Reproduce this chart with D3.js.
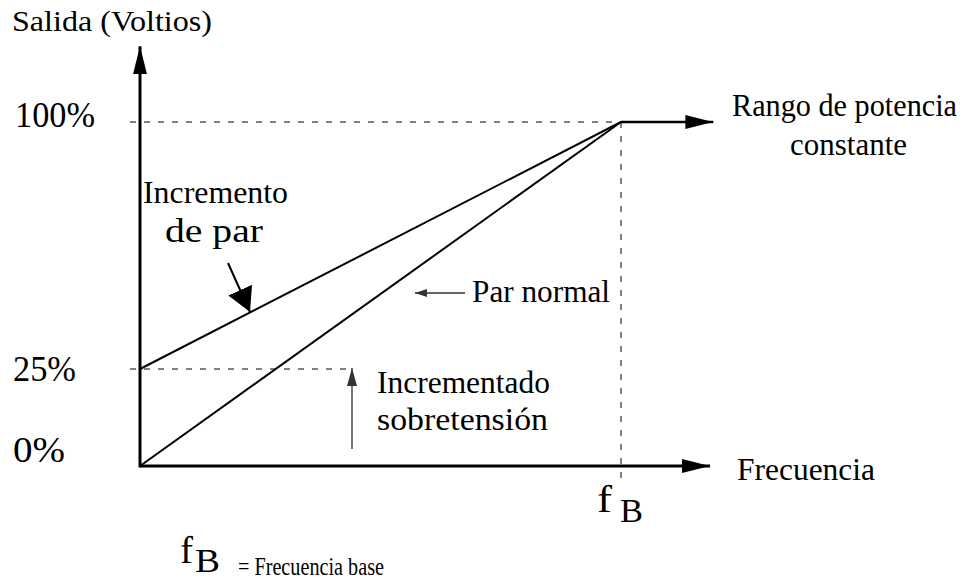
<!DOCTYPE html>
<html><head><meta charset="utf-8">
<script src="https://cdn.jsdelivr.net/npm/d3@7"></script>
<style>html,body{margin:0;padding:0;background:#fff}svg{display:block}</style>
</head><body><svg id="c" width="968" height="579"></svg>
<script>
// ---- data ----
const freqDomain = [0, 1];                 // 0 .. fB (normalized frequency)
const yTickValues = [0, 25, 100];
const yTickLabels = ["0%", "25%", "100%"];
const parNormal = [[0, 0], [1, 100]];
const incrementoPar = [[0, 25], [1, 100]];
const potenciaConstante = [[1, 100], [1.192, 100]];
const xAxisEnd = 1.185;
const yAxisEnd = 123;

const FONT = "'Liberation Serif', 'Times New Roman', Times, 'DejaVu Serif', serif";
const svg = d3.select("#c").attr("font-family", FONT);
const x = d3.scaleLinear().domain(freqDomain).range([140, 621]);
const y = d3.scaleLinear().domain([0, 25, 100]).range([466, 369, 122]);
const line = d3.line().x(d => x(d[0])).y(d => y(d[1]));

const defs = svg.append("defs");
function marker(id, len, hw, color) {
  defs.append("marker").attr("id", id).attr("viewBox", `0 ${-hw} ${len} ${2*hw}`)
    .attr("refX", len).attr("refY", 0).attr("markerWidth", len).attr("markerHeight", 2*hw)
    .attr("markerUnits", "userSpaceOnUse").attr("orient", "auto")
    .append("path").attr("d", `M0,${-hw}L${len},0L0,${hw}Z`).attr("fill", color);
}
marker("ax", 28, 7, "#000");
marker("big", 24, 13, "#000");
marker("sm", 12, 4, "#333");
marker("sm2", 18, 5, "#333");

// dashed guides
svg.append("line").attr("x1", x(0) - 10).attr("x2", x(1)).attr("y1", y(100)).attr("y2", y(100))
  .attr("stroke", "#000").attr("stroke-width", 1).attr("stroke-dasharray", "6,8");
svg.append("line").attr("x1", x(0) - 10).attr("x2", x(0.44)).attr("y1", y(25)).attr("y2", y(25))
  .attr("stroke", "#000").attr("stroke-width", 1).attr("stroke-dasharray", "6,8");
svg.append("line").attr("x1", x(1)).attr("x2", x(1)).attr("y1", y(100)).attr("y2", y(0) + 12)
  .attr("stroke", "#000").attr("stroke-width", 1).attr("stroke-dasharray", "6,8");

// axes
svg.append("line").attr("x1", x(0)).attr("x2", x(xAxisEnd)).attr("y1", y(0)).attr("y2", y(0))
  .attr("stroke", "#000").attr("stroke-width", 3).attr("marker-end", "url(#ax)");
svg.append("line").attr("x1", x(0)).attr("x2", x(0)).attr("y1", y(0) + 1.5).attr("y2", y(yAxisEnd))
  .attr("stroke", "#000").attr("stroke-width", 3).attr("marker-end", "url(#ax)");

// series
svg.append("path").datum(parNormal).attr("d", line).attr("fill", "none").attr("stroke", "#000").attr("stroke-width", 2);
svg.append("path").datum(incrementoPar).attr("d", line).attr("fill", "none").attr("stroke", "#000").attr("stroke-width", 2);
svg.append("path").datum(potenciaConstante).attr("d", line).attr("fill", "none").attr("stroke", "#000").attr("stroke-width", 2.5)
  .attr("marker-end", "url(#ax)");

// y tick labels
const ticks = [
  {v: yTickValues[0], t: yTickLabels[0], x: 13, dy: -4, w: 52},
  {v: yTickValues[1], t: yTickLabels[1], x: 13, dy: 12, w: 63},
  {v: yTickValues[2], t: yTickLabels[2], x: 15, dy: 5, w: 80}
];
svg.selectAll("text.tick").data(ticks).join("text").attr("class", "tick")
  .attr("font-family", FONT)
  .attr("x", d => d.x).attr("y", d => y(d.v) + d.dy).attr("font-size", 35)
  .attr("textLength", d => d.w).attr("lengthAdjust", "spacingAndGlyphs").text(d => d.t);

// annotation arrows
svg.append("line").attr("x1", 228).attr("y1", 263).attr("x2", 250).attr("y2", 312)
  .attr("stroke", "#000").attr("stroke-width", 2).attr("marker-end", "url(#big)");
svg.append("line").attr("x1", 465).attr("y1", 293).attr("x2", 415).attr("y2", 293)
  .attr("stroke", "#333").attr("stroke-width", 1.3).attr("marker-end", "url(#sm)");
svg.append("line").attr("x1", 352).attr("y1", 449).attr("x2", 352).attr("y2", y(25) - 1)
  .attr("stroke", "#333").attr("stroke-width", 1.3).attr("marker-end", "url(#sm2)");

// texts
const labels = [
  {t: "Salida (Voltios)", x: 12, y: 31, s: 30, w: 200},
  {t: "Rango de potencia", x: 732, y: 116, s: 31, w: 225},
  {t: "constante", x: 790, y: 155, s: 31, w: 117},
  {t: "Incremento", x: 143, y: 203, s: 32, w: 145},
  {t: "de par", x: 165, y: 242, s: 34, w: 98},
  {t: "Par normal", x: 472, y: 302, s: 31, w: 138},
  {t: "Incrementado", x: 377, y: 393, s: 31, w: 173},
  {t: "sobretensión", x: 377, y: 430, s: 31, w: 171},
  {t: "Frecuencia", x: 737, y: 480, s: 31, w: 138},
  {t: "f", x: 597, y: 512, s: 38, w: 15},
  {t: "B", x: 620, y: 522, s: 34, w: 23},
  {t: "f", x: 180, y: 563, s: 38, w: 13},
  {t: "B", x: 195, y: 572, s: 34, w: 25},
  {t: "= Frecuencia base", x: 238, y: 575, s: 25, w: 146}
];
svg.selectAll("text.lbl").data(labels).join("text").attr("class", "lbl")
  .attr("font-family", FONT)
  .attr("x", d => d.x).attr("y", d => d.y).attr("font-size", d => d.s)
  .attr("textLength", d => d.w).attr("lengthAdjust", "spacingAndGlyphs").text(d => d.t);
</script></body></html>
